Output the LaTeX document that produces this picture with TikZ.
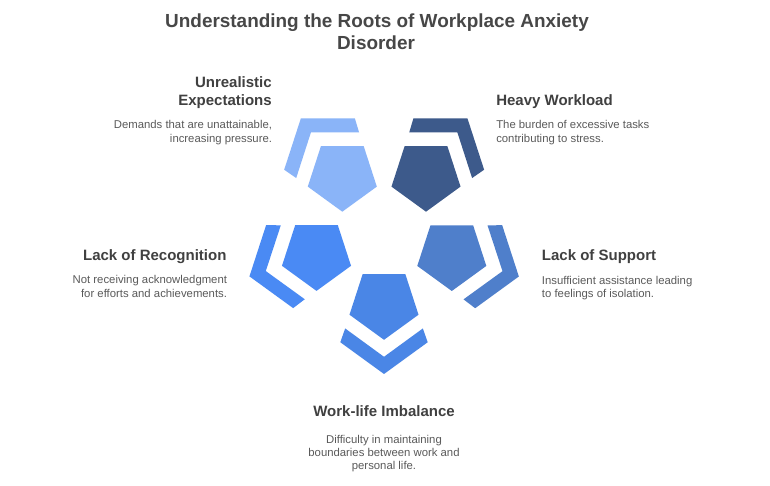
\documentclass[tikz,border=0pt]{standalone}
\usepackage{fontspec}
\setmainfont{Liberation Sans}
\definecolor{titlecol}{HTML}{474747}
\definecolor{headcol}{HTML}{404040}
\definecolor{desccol}{HTML}{5A5A5A}
\definecolor{cA}{HTML}{8AB4F8}
\definecolor{cB}{HTML}{3D5A8B}
\definecolor{cC}{HTML}{4A8AF4}
\definecolor{cD}{HTML}{4F7FCB}
\definecolor{cE}{HTML}{4A86E6}
\tikzset{
  pentashape/.pic={\path[pic actions] (270:36.3) -- (342:36.3) -- (54:36.3) -- (126:36.3) -- (198:36.3) -- cycle;},
  bracketshape/.pic={\path[pic actions] (-43.69,-38.75) -- (0,-70.5) -- (43.69,-38.75) -- (38.85,-24.95) -- (0,-53.3) -- (-38.85,-24.95) -- cycle;},
  titletext/.style={inner sep=0, font=\fontsize{14.2}{17}\selectfont\bfseries, text=titlecol},
  headtext/.style={inner sep=0, font=\fontsize{11.25}{13.5}\selectfont\bfseries, text=headcol},
  desctext/.style={inner sep=0, font=\fontsize{8.5}{10}\selectfont, text=desccol},
}
\begin{document}
\begin{tikzpicture}[x=0.75pt,y=0.75pt]
\fill[white] (0,0) rectangle (770,485);
\useasboundingbox (0,0) rectangle (770,485);
% title
\node[titletext, anchor=base] (t1) at (377,457.3) {Understanding the Roots of Workplace Anxiety};
\node[titletext, anchor=base] (t2) at (376,435.7) {Disorder};
% shapes
\pic[fill=cA] at (342.3,309.6) {pentashape};
\pic[fill=cA, rotate=-144] at (342.3,309.6) {bracketshape};
\pic[fill=cB] at (426,309.6) {pentashape};
\pic[fill=cB, rotate=144] at (426,309.6) {bracketshape};
\pic[fill=cC] at (316.5,230.4) {pentashape};
\pic[fill=cC, rotate=-72] at (316.5,230.4) {bracketshape};
\pic[fill=cD] at (451.8,230.3) {pentashape};
\pic[fill=cD, rotate=72] at (451.8,230.3) {bracketshape};
\pic[fill=cE] at (384,181.5) {pentashape};
\pic[fill=cE] at (384,181.5) {bracketshape};
% Unrealistic Expectations
\node[headtext, anchor=base east] (h1a) at (272,397.3) {Unrealistic};
\node[headtext, anchor=base east] (h1b) at (272,379.3) {Expectations};
\node[desctext, anchor=base east] (d1a) at (272.3,356.7) {Demands that are unattainable,};
\node[desctext, anchor=base east] (d1b) at (272.3,342.7) {increasing pressure.};
% Heavy Workload
\node[headtext, anchor=base west] (h2) at (496,379.3) {Heavy Workload};
\node[desctext, anchor=base west] (d2a) at (496,356) {The burden of excessive tasks};
\node[desctext, anchor=base west] (d2b) at (496,342.7) {contributing to stress.};
% Lack of Recognition
\node[headtext, anchor=base east] (h3) at (226.7,224) {Lack of Recognition};
\node[desctext, anchor=base east] (d3a) at (227.3,201) {Not receiving acknowledgment};
\node[desctext, anchor=base east] (d3b) at (227.3,187.7) {for efforts and achievements.};
% Lack of Support
\node[headtext, anchor=base west] (h4) at (541.7,224) {Lack of Support};
\node[desctext, anchor=base west] (d4a) at (541.7,200.7) {Insufficient assistance leading};
\node[desctext, anchor=base west] (d4b) at (541.7,187.3) {to feelings of isolation.};
% Work-life Imbalance
\node[headtext, anchor=base] (h5) at (384,68.3) {Work-life Imbalance};
\node[desctext, anchor=base] (d5a) at (384,41.7) {Difficulty in maintaining};
\node[desctext, anchor=base] (d5b) at (384,29) {boundaries between work and};
\node[desctext, anchor=base] (d5c) at (384,16) {personal life.};
\end{tikzpicture}
\end{document}
